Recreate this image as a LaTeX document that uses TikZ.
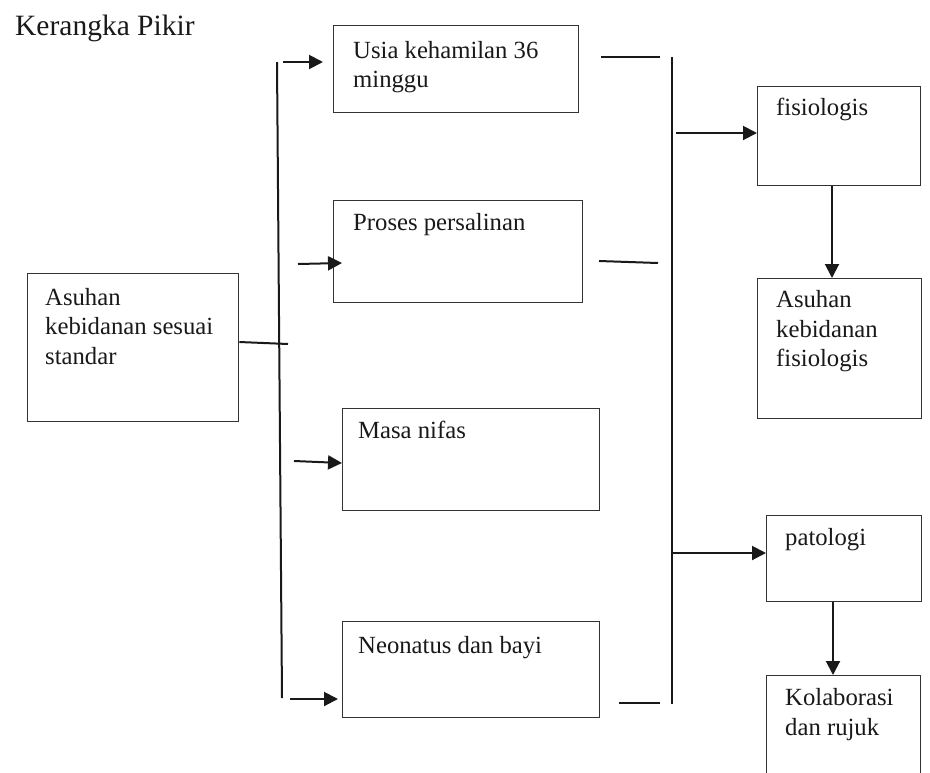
\documentclass[tikz,border=0pt]{standalone}
\usepackage{fontspec}
\setmainfont{Liberation Serif}
\usetikzlibrary{arrows.meta,calc}
\begin{document}
\begin{tikzpicture}[x=1pt,y=-1pt,
  boxnode/.style={draw=black!80,line width=1.3pt,rectangle,inner sep=0,anchor=north west},
  lbl/.style={inner sep=0,anchor=base west,align=left,font=\fontsize{24.7}{29.3}\selectfont,text=black!90},
  conn/.style={line width=2pt,black!90},
  arr/.style={conn,-{Triangle[length=14pt,width=14pt]}}]
\useasboundingbox (0,0) rectangle (930,772);
% title
\node[lbl,font=\fontsize{29.5}{34}\selectfont] (title) at (15,35) {Kerangka Pikir};
% boxes (multi-line labels are placed by the baseline of their last line)
\node[boxnode,minimum width=211pt,minimum height=148pt] (asuhan) at (27,273) {};
\node[lbl] (asuhanT) at (45,364) {Asuhan\\kebidanan sesuai\\standar};
\node[boxnode,minimum width=245pt,minimum height=87pt] (usia) at (333,25) {};
\node[lbl] (usiaT) at (353,87.5) {Usia kehamilan 36\\minggu};
\node[boxnode,minimum width=249pt,minimum height=102pt] (proses) at (333,200) {};
\node[lbl] (prosesT) at (353,230) {Proses persalinan};
\node[boxnode,minimum width=257pt,minimum height=102pt] (nifas) at (342,408) {};
\node[lbl] (nifasT) at (358,438) {Masa nifas};
\node[boxnode,minimum width=257pt,minimum height=96pt] (neo) at (342,621) {};
\node[lbl] (neoT) at (358,653) {Neonatus dan bayi};
\node[boxnode,minimum width=163pt,minimum height=99pt] (fis) at (757,86) {};
\node[lbl] (fisT) at (776,115) {fisiologis};
\node[boxnode,minimum width=164pt,minimum height=140pt] (akf) at (757,278) {};
\node[lbl] (akfT) at (776,366.5) {Asuhan\\kebidanan\\fisiologis};
\node[boxnode,minimum width=155pt,minimum height=86pt] (pat) at (766,515) {};
\node[lbl] (patT) at (785,545) {patologi};
\node[boxnode,minimum width=154pt,minimum height=120pt] (kol) at (766,675) {};
\node[lbl] (kolT) at (785,735) {Kolaborasi\\dan rujuk};
% left bar
\coordinate (lt) at (277,62);
\coordinate (lb) at (282,698);
\draw[conn] (lt) -- (lb);
\coordinate (a1s) at (283,62);
\draw[arr] (a1s) -- (323,62);
\coordinate (asE) at (288,344);
\draw[conn] (asuhan.east |- 0,342) -- (asE);
\coordinate (a2s) at (298,264);
\draw[arr] (a2s) -- (342,263);
\coordinate (a3s) at (294,461);
\draw[arr] (a3s) -- (342,463);
\coordinate (a4s) at (290,699);
\draw[arr] (a4s) -- (338,699);
% right bar
\coordinate (rt) at (672,57);
\coordinate (rb) at (672,704);
\draw[conn] (rt) -- (rb);
\coordinate (u1) at (601,57);
\coordinate (u2) at (660,57);
\draw[conn] (u1) -- (u2);
\coordinate (p1) at (599,261);
\coordinate (p2) at (658,263);
\draw[conn] (p1) -- (p2);
\coordinate (n1) at (619,703);
\coordinate (n2) at (660,703);
\draw[conn] (n1) -- (n2);
\coordinate (f1) at (676,133);
\draw[arr] (f1) -- (fis.west |- f1);
\coordinate (pa1) at (672,553);
\draw[arr] (pa1) -- (pat.west |- pa1);
\draw[arr] (fis.south -| 832,0) -- (akf.north -| 832,0);
\draw[arr] (pat.south -| 833,0) -- (kol.north -| 833,0);
\end{tikzpicture}
\end{document}
